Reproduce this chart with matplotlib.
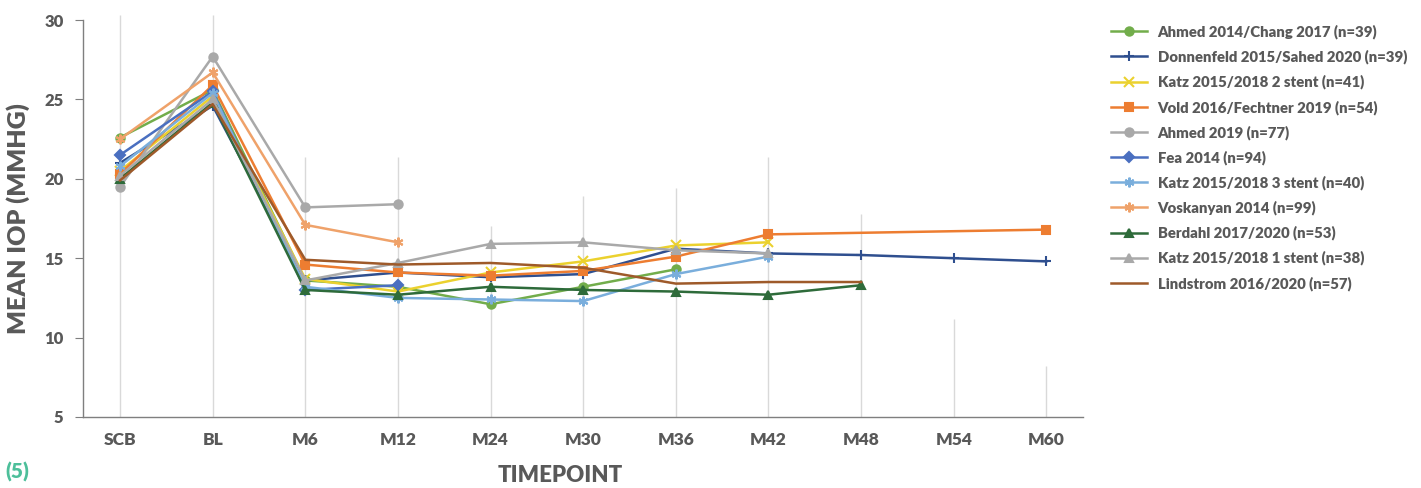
import matplotlib
matplotlib.use("Agg")
from matplotlib import pyplot as plt

timepoints = ['SCB', 'BL', 'M6', 'M12', 'M24', 'M30', 'M36', 'M42', 'M48', 'M54', 'M60']

# top of the light vertical guide line at each timepoint
guide_tops = [30.3, 30.3, 21.4, 21.4, 17.0, 18.9, 19.4, 21.4, 17.8, 11.2, 8.2]

names = [
    'Ahmed 2014/Chang 2017 (n=39)',
    'Donnenfeld 2015/Sahed 2020 (n=39)',
    'Katz 2015/2018 2 stent (n=41)',
    'Vold 2016/Fechtner 2019 (n=54)',
    'Ahmed 2019 (n=77)',
    'Fea 2014 (n=94)',
    'Katz 2015/2018 3 stent (n=40)',
    'Voskanyan 2014 (n=99)',
    'Berdahl 2017/2020 (n=53)',
    'Katz 2015/2018 1 stent (n=38)',
    'Lindstrom 2016/2020 (n=57)',
]

N = None
ahmed_2014 = [22.6, 25.6, 13.6, 13.2, 12.1, 13.2, 14.3, N, N, N, N]
donnenfeld = [21.0, 24.6, 13.6, 14.1, 13.8, 14.0, 15.6, 15.3, 15.2, 15.0, 14.8]
katz_2 = [20.5, 25.2, 13.7, 12.9, 14.1, 14.8, 15.8, 16.0, N, N, N]
vold = [20.3, 25.9, 14.6, 14.1, 13.9, 14.2, 15.1, 16.5, N, N, 16.8]
ahmed_2019 = [19.5, 27.7, 18.2, 18.4, N, N, N, N, N, N, N]
fea = [21.5, 25.5, 13.0, 13.3, N, N, N, N, N, N, N]
katz_3 = [20.8, 25.4, 13.2, 12.5, 12.4, 12.3, 14.0, 15.1, N, N, N]
voskanyan = [22.5, 26.7, 17.1, 16.0, N, N, N, N, N, N, N]
berdahl = [20.0, 24.8, 13.0, 12.7, 13.2, 13.0, 12.9, 12.7, 13.3, N, N]
katz_1 = [20.2, 25.0, 13.6, 14.7, 15.9, 16.0, 15.5, 15.3, N, N, N]
lindstrom = [19.9, 24.7, 14.9, 14.6, 14.7, 14.4, 13.4, 13.5, 13.5, N, N]

series = [ahmed_2014, donnenfeld, katz_2, vold, ahmed_2019, fea,
          katz_3, voskanyan, berdahl, katz_1, lindstrom]

colors = ['#72AD4B', '#2F4F8F', '#EBD12E', '#ED7D31', '#A9A9A9', '#4A6FC0',
          '#7AAEDC', '#EFA26A', '#2E6B3A', '#A9A9A9', '#9E5A2A']
markers = ['o', '+', 'x', 's', 'o', 'D', (6, 2, 0), (6, 2, 0), '^', '^', '']
msizes = [6, 7, 7, 6, 6, 5, 7, 7, 6, 6, 0]

plt.rcParams['font.family'] = ['Lato', 'DejaVu Sans']
text_grey = '#595959'

fig = plt.figure(figsize=(14.21, 4.88), dpi=100)
ax = fig.add_axes([0.0584, 0.1455, 0.704, 0.8135])

x_pos = list(range(len(timepoints)))
ax.vlines(x_pos, 5, guide_tops, color='#D9D9D9', linewidth=1, clip_on=False, zorder=0)

for name, values, col, mk, ms in zip(names, series, colors, markers, msizes):
    xs = [i for i, v in enumerate(values) if v is not None]
    ys = [v for v in values if v is not None]
    ax.plot(xs, ys, color=col, marker=mk, markersize=ms, linewidth=1.8,
            markeredgewidth=1.5, label=name, zorder=2)

ax.set_xlim(-0.4, 10.4)
ax.set_ylim(5, 30)
ax.set_yticks([5, 10, 15, 20, 25, 30])
ax.set_xticks(x_pos)
ax.set_xticklabels(timepoints)
for side in ['top', 'right']:
    ax.spines[side].set_visible(False)
for side in ['left', 'bottom']:
    ax.spines[side].set_color('#7F7F7F')
    ax.spines[side].set_linewidth(1)
ax.tick_params(axis='x', length=0, pad=11, labelsize=12.5, labelcolor=text_grey)
ax.tick_params(axis='y', length=6, color='#7F7F7F', pad=8, labelsize=12, labelcolor=text_grey)
for lbl in ax.get_xticklabels() + ax.get_yticklabels():
    lbl.set_fontweight('heavy')

ax.set_ylabel('MEAN IOP (MMHG)', fontsize=18, color=text_grey, fontweight='heavy', labelpad=10)
fig.text(0.394, 0.012, 'TIMEPOINT', fontsize=16, color=text_grey, fontweight='heavy', ha='center')
fig.text(0.004, 0.02, '(5)', fontsize=15, color='#4DBF9A', fontweight='heavy')

leg = ax.legend(loc='upper left', bbox_to_anchor=(0.778, 0.962), bbox_transform=fig.transFigure,
                frameon=False, fontsize=10.7, labelspacing=0.71, handlelength=2.4,
                handletextpad=0.7, borderaxespad=0)
for t in leg.get_texts():
    t.set_color(text_grey)
    t.set_fontweight('heavy')

fig.savefig('out.png', dpi=100)
